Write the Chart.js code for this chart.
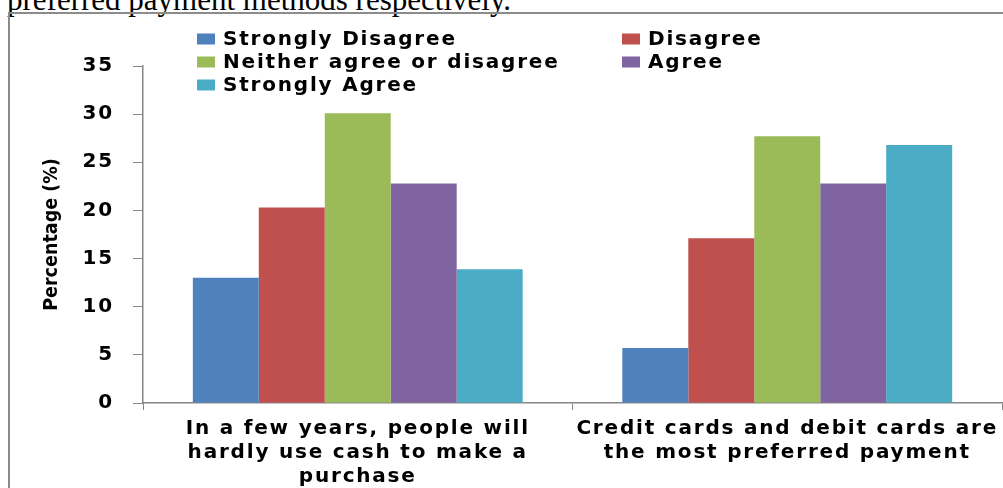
<!DOCTYPE html>
<html>
<head>
<meta charset="utf-8">
<script src="https://cdn.jsdelivr.net/npm/chart.js@4"></script>
<style>
  html, body { margin: 0; padding: 0; background: #fff; overflow: hidden; }
  #caption {
    position: absolute; left: 7px; top: -16px;
    font-family: "Liberation Serif", "Times New Roman", serif;
    font-size: 31px; line-height: 31px; white-space: nowrap; color: #000;
  }
  #frame {
    position: absolute; left: 8px; top: 12px; width: 1100px; height: 600px;
    border-left: 2px solid #8c8c8c; border-top: 2px solid #8c8c8c;
  }
  #wrap { position: absolute; left: 0; top: 0; width: 1003px; height: 488px; }
</style>
</head>
<body>
<div id="caption">preferred payment methods respectively.</div>
<div id="frame"></div>
<div id="wrap"><canvas id="surveyChart"></canvas></div>
<script>
// Values (percent of respondents)
const categories = [
    ['In a few years, people will', 'hardly use cash to make a', 'purchase'],
    ['Credit cards and debit cards are', 'the most preferred payment']
];
const seriesNames = ['Strongly Disagree', 'Disagree', 'Neither agree or disagree', 'Agree', 'Strongly Agree'];
const stronglyDisagree = [13.0, 5.7];
const disagree = [20.3, 17.1];
const neither = [30.1, 27.7];
const agree = [22.8, 22.8];
const stronglyAgree = [13.9, 26.8];
const yTicks = [0, 5, 10, 15, 20, 25, 30, 35];
const colors = ['#4F81BD', '#C0504D', '#9BBB59', '#8064A2', '#4BACC6'];

const seriesValues = [stronglyDisagree, disagree, neither, agree, stronglyAgree];
const boldFont = '"DejaVu Sans", Verdana, sans-serif';

// The original text is wide and bold, so tick labels get a little letter spacing
// (they are drawn after the bars, see ticks.z below).
// The legend is drawn by hand in two columns like the original.
const gridLegend = {
    id: 'gridLegend',
    afterDatasetsDraw(chart) {
        chart.ctx.letterSpacing = '1.8px';
    },
    afterDraw(chart) {
        const ctx = chart.ctx;
        const cols = [197, 622];
        const rowY = [39, 62, 85];
        ctx.save();
        ctx.letterSpacing = '1.8px';
        ctx.font = 'bold 20px ' + boldFont;
        ctx.textBaseline = 'middle';
        chart.data.datasets.forEach(function(ds, i) {
            const x = cols[i % 2];
            const y = rowY[Math.floor(i / 2)];
            ctx.fillStyle = ds.backgroundColor;
            ctx.fillRect(x, y - 5.5, 18, 11);
            ctx.fillStyle = '#000';
            ctx.fillText(ds.label, x + 26, y + 1);
        });
        ctx.restore();
        ctx.letterSpacing = '0px';
    }
};

const config = {
    type: 'bar',
    data: {
        labels: categories,
        datasets: seriesNames.map(function(name, i) {
            return {
                label: name,
                data: seriesValues[i],
                backgroundColor: colors[i],
                borderWidth: 0,
                categoryPercentage: 0.768,
                barPercentage: 1.0
            };
        })
    },
    options: {
        responsive: true,
        maintainAspectRatio: false,
        animation: false,
        layout: {
            padding: { top: 66, right: 1, left: 0, bottom: 0 }
        },
        plugins: {
            legend: { display: false },
            tooltip: { enabled: false }
        },
        scales: {
            x: {
                grid: {
                    display: true,
                    drawOnChartArea: false,
                    tickLength: 7,
                    color: '#868686',
                    offset: true
                },
                border: { color: '#868686', width: 1.5 },
                ticks: {
                    z: 1,
                    color: '#000',
                    maxRotation: 0,
                    autoSkip: false,
                    padding: 7,
                    font: { family: boldFont, size: 20, weight: 'bold', lineHeight: 1.2 }
                },
                afterFit: function(scale) { scale.height = 85; }
            },
            y: {
                min: 0,
                max: 35,
                afterBuildTicks: function(scale) {
                    scale.ticks = yTicks.map(function(v) { return { value: v }; });
                },
                grid: {
                    drawOnChartArea: false,
                    tickLength: 10,
                    color: '#868686'
                },
                border: { color: '#868686', width: 1.5 },
                ticks: {
                    z: 1,
                    color: '#000',
                    padding: 19,
                    font: { family: boldFont, size: 20, weight: 'bold' }
                },
                title: {
                    display: true,
                    text: 'Percentage (%)',
                    color: '#000',
                    padding: { top: 40, bottom: 0 },
                    font: { family: '"DejaVu Sans Condensed", "Liberation Sans Narrow", sans-serif', size: 19.5, weight: 'bold', lineHeight: 1.2 }
                },
                afterFit: function(scale) { scale.width = 143; }
            }
        }
    },
    plugins: [gridLegend]
};

const ctx = document.getElementById('surveyChart').getContext('2d');
const surveyChart = new Chart(ctx, config);
</script>
</body>
</html>
